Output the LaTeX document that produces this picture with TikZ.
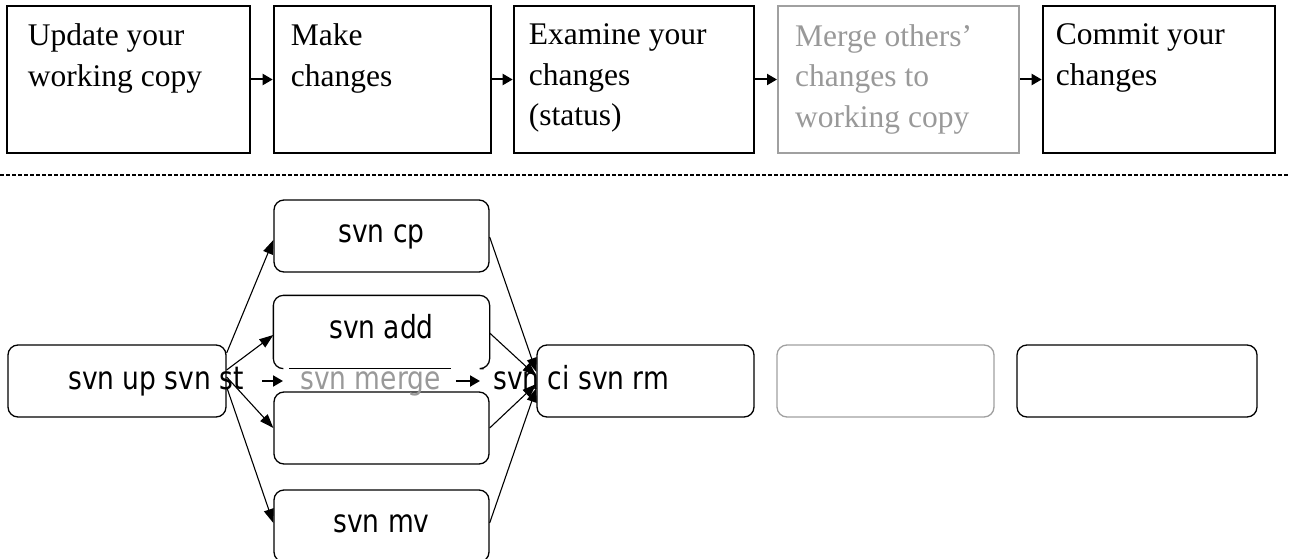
\documentclass[tikz,border=0pt]{standalone}
\usepackage{fontspec}
\setmainfont{Liberation Serif}
\setsansfont{DejaVu Sans}
\usetikzlibrary{arrows.meta}
\definecolor{fadedgray}{HTML}{999999}
\definecolor{boxgray}{HTML}{A0A0A0}
\newcommand{\tallsf}[1]{\scalebox{1}[1.2]{#1}}

\begin{document}
\begin{tikzpicture}[x=1pt, y=-1pt,
    stepbox/.style={draw, line width=2.6pt, minimum height=147pt, inner sep=0pt},
    steptext/.style={anchor=north west, align=left, inner sep=0pt, font=\fontsize{31.5}{40.5}\selectfont},
    cmdbox/.style={draw, line width=1.3pt, rounded corners=10pt, minimum width=215pt, minimum height=72pt,
        inner sep=0pt, text height=16pt, text depth=3pt, font=\sffamily\fontsize{26.5}{30}\selectfont},
    cmdtext/.style={anchor=base west, inner sep=0pt, text height=16pt, text depth=0pt, font=\sffamily\fontsize{26.5}{30}\selectfont},
    next/.style={-{Triangle[length=10pt, width=11pt]}, line width=2pt},
    fan/.style={-{Triangle[length=14pt, width=10pt]}, line width=1.1pt}]
    \useasboundingbox (0, 0) rectangle (1290, 559);

    \node [stepbox, minimum width=243pt] (update) at (128.5, 79.5) {};
    \node [stepbox, minimum width=217pt] (make) at (382.5, 79.5) {};
    \node [stepbox, minimum width=240pt] (examine) at (634, 79.5) {};
    \node [stepbox, draw=boxgray, line width=2pt, minimum width=241pt] (mergeothers) at (898.5, 79.5) {};
    \node [stepbox, minimum width=232pt] (commit) at (1159, 79.5) {};

    \node [steptext] (update-t) at ([xshift=22pt, yshift=-19pt]update.north west) {Update your\\working copy};
    \node [steptext] (make-t) at ([xshift=18pt, yshift=-19pt]make.north west) {Make\\changes};
    \node [steptext] (examine-t) at ([xshift=16pt, yshift=-19pt]examine.north west) {Examine your\\changes\\(status)};
    \node [steptext, text=fadedgray] (mergeothers-t) at ([xshift=18pt, yshift=-19pt]mergeothers.north west) {Merge others’\\changes to\\working copy};
    \node [steptext] (commit-t) at ([xshift=14pt, yshift=-19pt]commit.north west) {Commit your\\changes};

    \draw [next] (update) -- (make);
    \draw [next] (make) -- (examine);
    \draw [next] (examine) -- (mergeothers);
    \draw [next] (mergeothers) -- (commit);

    \coordinate (sep-l) at (0, 175);
    \coordinate (sep-r) at (1290, 175);
    \draw [line width=1.2pt, dash pattern=on 4pt off 2pt] (sep-l) -- (sep-r);

    \node [cmdbox, minimum width=218pt] (up) at (117, 381) {};
    \node [cmdbox] (cp) at (381.5, 236) {\tallsf{svn cp}};
    \node [cmdbox, draw=none] (add) at (381.5, 332) {\tallsf{svn add}};
    \node [cmdbox] (blank) at (381.5, 428) {};
    \node [cmdbox] (mv) at (381.5, 526) {\tallsf{svn mv}};
    \node [cmdbox, minimum width=217pt] (ci) at (645.5, 381) {};
    \node [cmdbox, draw=boxgray, minimum width=217pt] (greybox) at (885.5, 381) {};
    \node [cmdbox, minimum width=240pt] (lastbox) at (1137, 381) {};

    % svn add box, bottom edge partly gone
    \draw [line width=1.3pt, rounded corners=10pt] ([xshift=10pt]add.south west) -- (add.south west)
        -- (add.north west) -- (add.north east) -- (add.south east) -- ([xshift=-6pt]add.south east);
    \draw [line width=1.3pt] ([xshift=16pt]add.south west) -- ([xshift=-39pt]add.south east);

    \node [cmdtext] (upst) at (68, 389) {\tallsf{svn up svn st}};
    \node [cmdtext, text=fadedgray] (merge) at (300, 389) {\tallsf{svn merge}};
    \node [cmdtext] (cirm) at (493, 389) {\tallsf{svn ci svn rm}};

    \draw [next, shorten <=18pt, shorten >=17pt] (upst) -- (merge);
    \draw [next, shorten <=15pt, shorten >=13pt] (merge) -- (cirm);

    \draw [fan] ([yshift=28pt]up.east) -- ([yshift=-4pt]cp.west);
    \draw [fan] ([yshift=11pt]up.east) -- ([yshift=-3pt]add.west);
    \draw [fan] ([yshift=4pt]up.east) -- (blank.west);
    \draw [fan] ([yshift=-6pt]up.east) -- ([yshift=3pt]mv.west);

    \draw [fan] ([yshift=-1pt]cp.east) -- ([yshift=9pt]ci.west);
    \draw [fan] ([yshift=-1pt]add.east) -- ([yshift=5pt]ci.west);
    \draw [fan] (blank.east) -- ([yshift=-3pt]ci.west);
    \draw [fan] ([yshift=3pt]mv.east) -- ([yshift=-7pt]ci.west);

\end{tikzpicture}
\end{document}
